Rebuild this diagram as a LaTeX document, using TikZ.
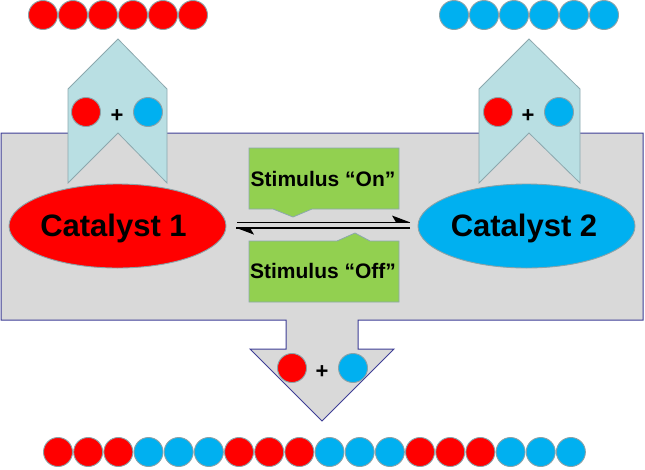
\documentclass[tikz,border=0pt]{standalone}
\usepackage{fontspec}
\setmainfont{Liberation Sans}
\usetikzlibrary{shapes.geometric}
\definecolor{cred}{RGB}{255,0,0}
\definecolor{cblue}{RGB}{0,176,240}
\definecolor{cgreen}{RGB}{146,208,80}
\definecolor{chevfill}{RGB}{185,223,227}
\definecolor{chevedge}{RGB}{140,168,174}
\definecolor{panelfill}{RGB}{217,217,217}
\definecolor{paneledge}{RGB}{62,62,150}
\definecolor{balledge}{RGB}{138,162,168}
\begin{document}
\begin{tikzpicture}[x=1pt,y=-1pt,
  ball/.style={circle,draw=balledge,line width=0.9pt,minimum size=29pt,inner sep=0pt},
  chev/.style={fill=chevfill,draw=chevedge,line width=0.8pt,line join=miter},
  panel/.style={fill=panelfill,draw=paneledge,line width=1pt,line join=miter},
  catal/.style={ellipse,draw=balledge,line width=0.9pt,minimum width=217pt,minimum height=84pt,inner sep=0pt},
  cattext/.style={font=\fontsize{31}{31}\selectfont\bfseries,anchor=base},
  stimbox/.style={fill=cgreen,draw=chevedge,line width=0.8pt,line join=miter},
  stimtext/.style={font=\fontsize{21}{21}\selectfont\bfseries,anchor=base},
  plustext/.style={font=\fontsize{22}{22}\selectfont\bfseries,inner sep=0pt},
  rxn/.style={line width=1.6pt},
  barb/.style={fill=black}
]
\useasboundingbox (0,0) rectangle (645,469);

% main panel with output arrow
\draw[panel] (1,133) -- (643,133) -- (643,320) -- (358,320) -- (358,349) -- (394,349)
  -- (322,421) -- (250,349) -- (286,349) -- (286,320) -- (1,320) -- cycle;

% input chevrons
\draw[chev] (68,89) -- (118,39) -- (167,89) -- (167,183) -- (118,133) -- (68,183) -- cycle;
\draw[chev] (479,89) -- (529,39) -- (580,89) -- (580,183) -- (529,133) -- (479,183) -- cycle;

% monomer pairs
\node[ball,fill=cred]  (l1) at (86,112) {};
\node[plustext]        (lp) at (117,116) {+};
\node[ball,fill=cblue] (l2) at (148,112) {};
\node[ball,fill=cred]  (r1) at (498,112) {};
\node[plustext]        (rp) at (528,116) {+};
\node[ball,fill=cblue] (r2) at (559,112) {};
\node[ball,fill=cred]  (d1) at (292,368) {};
\node[plustext]        (dp) at (322,372) {+};
\node[ball,fill=cblue] (d2) at (353,368) {};

% catalysts
\node[catal,fill=cred]  (cat1) at (117.5,226) {};
\node[cattext] (cat1t) at (113.5,236.5) {Catalyst 1};
\node[catal,fill=cblue] (cat2) at (526.5,226) {};
\node[cattext] (cat2t) at (524,236) {Catalyst 2};

% stimulus boxes
\draw[stimbox] (249,148) -- (399,148) -- (399,209) -- (312,209) -- (293,217) -- (273,209) -- (249,209) -- cycle;
\node[stimtext] (on) at (323,186) {Stimulus “On”};
\draw[stimbox] (249,241) -- (337,241) -- (355,233) -- (370,241) -- (399,241) -- (399,302) -- (249,302) -- cycle;
\node[stimtext] (off) at (323,278) {Stimulus “Off”};

% equilibrium harpoons
\coordinate (f0) at (237,222.3);
\coordinate (f1) at (410,222.3);
\coordinate (g0) at (236,227.8);
\coordinate (g1) at (410,227.8);
\draw[rxn] (f0) -- (f1);
\fill[barb] (f1) -- (392,215.5) -- (396,222.3) -- cycle;
\draw[rxn] (g1) -- (g0);
\fill[barb] (g0) -- (254,234.6) -- (250,227.8) -- cycle;

% top chains
\foreach \i in {0,...,5} {
  \node[ball,fill=cred]  (tl\i) at ({43+30*\i},15) {};
  \node[ball,fill=cblue] (tr\i) at ({454+30*\i},15) {};
}
% bottom chain
\foreach \c [count=\i from 0] in {cred,cred,cred,cblue,cblue,cblue,cred,cred,cred,cblue,cblue,cblue,cred,cred,cred,cblue,cblue,cblue} {
  \node[ball,fill=\c] (bc\i) at ({58+30.17*\i},452) {};
}
\end{tikzpicture}
\end{document}
